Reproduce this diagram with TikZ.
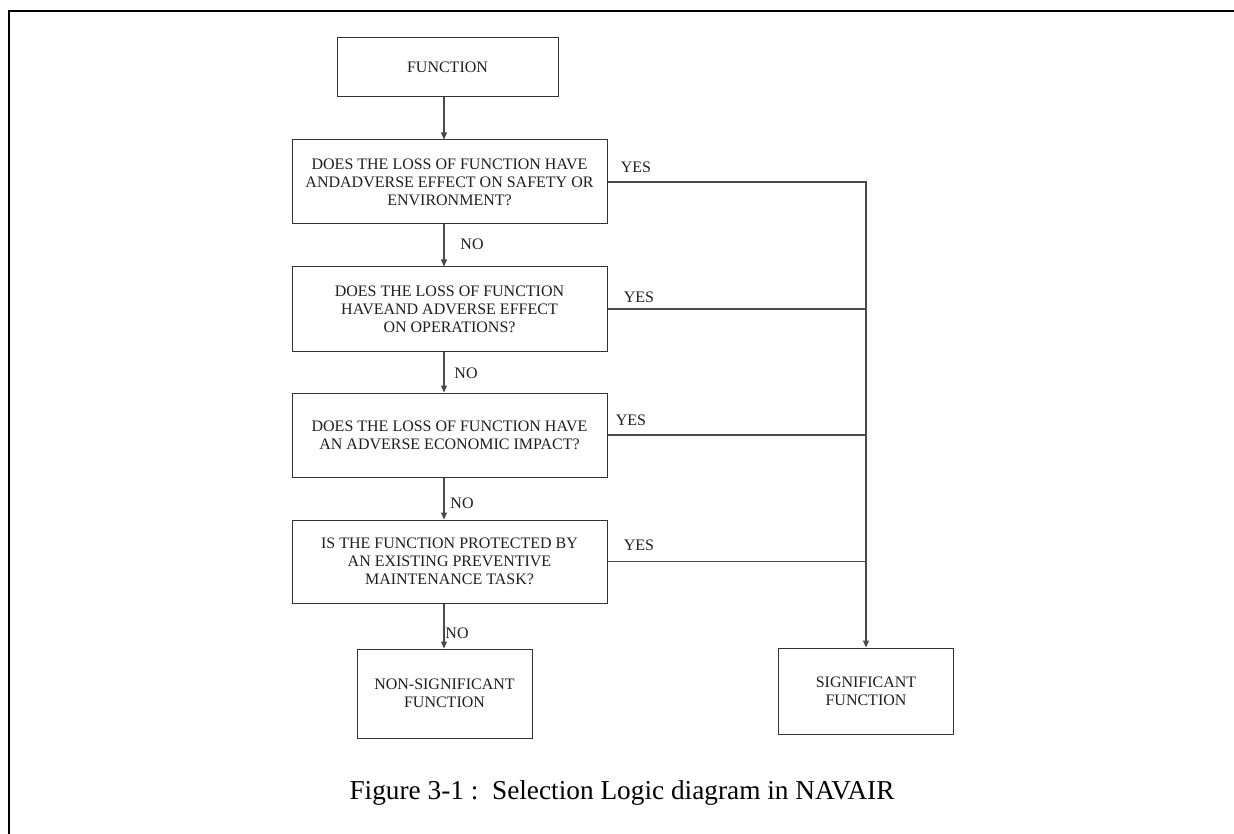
\documentclass[tikz,border=0pt]{standalone}
\usepackage{fontspec}
\setmainfont{Liberation Serif}
\usetikzlibrary{arrows.meta}

\definecolor{ink}{HTML}{1E1E1E}
\definecolor{wire}{HTML}{4A4A4A}
\definecolor{frame}{HTML}{333333}

\tikzset{
  box/.style={draw=frame, line width=1pt, rectangle, align=center, text=ink,
    inner sep=0pt, font=\fontsize{16}{18}\selectfont},
  qbox/.style={box, minimum width=315pt, minimum height=84pt},
  endbox/.style={box, minimum width=175pt, minimum height=87pt},
  conn/.style={draw=wire, line width=1.1pt},
  flow/.style={conn, -{Triangle[length=7pt,width=6pt]}},
  tag/.style={text=ink, inner sep=0pt, font=\fontsize{16}{18}\selectfont}
}

\begin{document}
\begin{tikzpicture}[x=1pt, y=-1pt]
  \useasboundingbox (0,0) rectangle (1234,834);

  % page frame: only the top and left edges fall inside the picture
  \draw[line width=2.7pt, black] (1234,11) -- (9,11) -- (9,834);

  % main column and the YES collector line
  \coordinate (spine) at (444,0);
  \coordinate (bus) at (866,0);

  \node[box, minimum width=221pt, minimum height=59pt] (func) at (447.5,67.5) {FUNCTION};

  \node[qbox] (q1) at (449.5,182) {DOES THE LOSS OF FUNCTION HAVE\\ANDADVERSE EFFECT ON SAFETY OR\\ENVIRONMENT?};
  \node[qbox] (q2) at (449.5,309) {DOES THE LOSS OF FUNCTION\\HAVEAND ADVERSE EFFECT\\ON OPERATIONS?};
  \node[qbox] (q3) at (449.5,435) {DOES THE LOSS OF FUNCTION HAVE\\AN ADVERSE ECONOMIC IMPACT?};
  \node[qbox, minimum height=83pt] (q4) at (449.5,561.5) {IS THE FUNCTION PROTECTED BY\\AN EXISTING PREVENTIVE\\MAINTENANCE TASK?};

  \node[endbox, minimum height=89pt] (ns) at (444.5,693.5) {NON-SIGNIFICANT\\FUNCTION};
  \node[endbox, minimum height=86pt] (sig) at (866,691) {SIGNIFICANT\\FUNCTION};

  % NO branch down the main column
  \draw[flow] (func.south -| spine) -- (q1.north -| spine);
  \draw[flow] (q1.south -| spine) -- (q2.north -| spine);
  \draw[flow] (q2.south -| spine) -- (q3.north -| spine);
  \draw[flow] (q3.south -| spine) -- (q4.north -| spine);
  \draw[flow] (q4.south -| spine) -- (ns.north -| spine);

  % YES branches into the collector
  \draw[flow] (q1.east) -- (q1.east -| bus) -- (sig.north);
  \draw[conn] (q2.east) -- (q2.east -| bus);
  \draw[conn] (q3.east) -- (q3.east -| bus);
  \draw[conn] (q4.east) -- (q4.east -| bus);

  % branch labels
  \node[tag] (yes1) at (636,167) {YES};
  \node[tag] (yes2) at (639,297) {YES};
  \node[tag] (yes3) at (631,420) {YES};
  \node[tag] (yes4) at (639,545) {YES};
  \node[tag] (no1) at (472,244) {NO};
  \node[tag] (no2) at (466,373) {NO};
  \node[tag] (no3) at (462,503) {NO};
  \node[tag] (no4) at (457,633) {NO};

  \node[text=black, inner sep=0pt, font=\fontsize{27.3}{32}\selectfont] (cap) at (622,793)
    {Figure 3-1 :\ \ Selection Logic diagram in NAVAIR};
\end{tikzpicture}
\end{document}
